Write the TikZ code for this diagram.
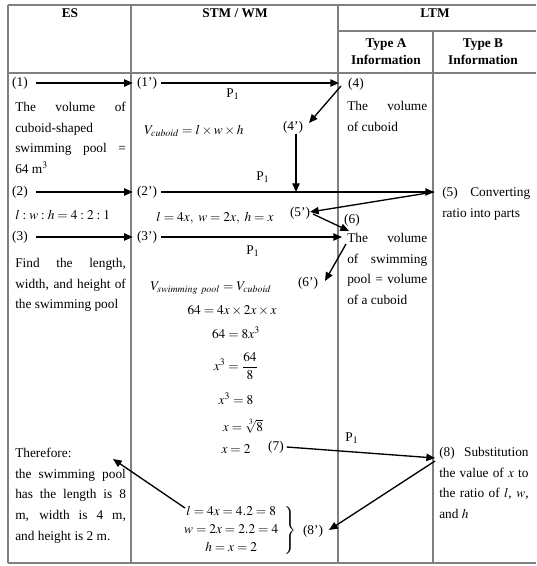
\documentclass[tikz,border=0pt]{standalone}
\usepackage{amsmath}
\usepackage{mathptmx}
\usepackage{fontspec}
\setmainfont{Liberation Serif}
\usetikzlibrary{arrows.meta}
\begin{document}
\begin{tikzpicture}[x=0.75pt,y=-0.75pt,
  grid/.style={draw=black!50, line width=0.9pt},
  arr/.style={-{Triangle[length=6.5pt,width=5.5pt]}, line width=1pt},
  lbl/.style={inner sep=0pt, font=\fontsize{10}{12}\selectfont},
  hd/.style={inner sep=0pt, font=\fontsize{10}{13}\selectfont\bfseries, align=center},
  para/.style={inner sep=0pt, anchor=north west, align=justify, font=\fontsize{10}{15.5}\selectfont},
  eq/.style={inner sep=0pt, font=\fontsize{10}{12}\selectfont},
]
\useasboundingbox (0,0) rectangle (536,566);
% table
\draw[grid] (8,5) -- (536,5);
\draw[grid] (338,31) -- (536,31);
\draw[grid] (8,73) -- (536,73);
\draw[grid] (8,563) -- (536,563);
\draw[grid] (8,5) -- (8,563);
\draw[grid] (131,5) -- (131,563);
\draw[grid] (338,5) -- (338,563);
\draw[grid] (433,31) -- (433,563);
% headers
\node[hd] (hES) at (70,13) {ES};
\node[hd] (hSTM) at (235,13) {STM / WM};
\node[hd] (hLTM) at (435,13) {LTM};
\node[hd] (hA) at (386,52) {Type A\\Information};
\node[hd] (hB) at (483,52) {Type B\\Information};
% ES column
\node[lbl] (n1) at (20,83) {(1)};
\node[para, text width=83pt] (t1) at (15,102) {The volume of\linebreak cuboid-shaped\linebreak swimming pool =\linebreak 64 m$^3$};
\node[lbl] (n2) at (20,192) {(2)};
\node[para, text width=83pt] (t2) at (15,210) {$l:w:h = 4:2:1$};
\node[lbl] (n3) at (20,237) {(3)};
\node[para, text width=83pt] (t3) at (15,258) {Find the length,\linebreak width, and height of\linebreak the swimming pool};
\node[para, text width=83pt] (t8) at (15,448) {Therefore:\\the swimming pool\linebreak has the length is 8\linebreak m, width is 4 m,\linebreak and height is 2 m.};
% STM column
\node[lbl] (n1p) at (147,83) {(1')};
\node[lbl] (pa) at (233,94) {P$_1$};
\node[eq] (e1) at (194,131) {$V_{cuboid} = l\times w\times h$};
\node[lbl] (n4p) at (293,127) {(4')};
\node[lbl] (pb) at (263,177) {P$_1$};
\node[lbl] (n2p) at (147,192) {(2')};
\node[eq] (e2) at (215,218) {$l = 4x,\ w = 2x,\ h = x$};
\node[lbl] (n5p) at (300,213) {(5')};
\node[lbl] (n3p) at (147,237) {(3')};
\node[lbl] (pc) at (253,251) {P$_1$};
\node[eq] (e3) at (211,288) {$V_{swimming\ pool} = V_{cuboid}$};
\node[lbl] (n6p) at (308,283) {(6')};
\node[eq] (e4) at (232,310) {$64 = 4x\times 2x\times x$};
\node[eq] (e5) at (236,333) {$64 = 8x^3$};
\node[eq] (e6) at (236,366) {$x^3 = \dfrac{64}{8}$};
\node[eq] (e7) at (236,399) {$x^3 = 8$};
\node[eq] (e8) at (243,426) {$x = \sqrt[3]{8}$};
\node[eq] (e9) at (236,449) {$x = 2$};
\node[lbl] (n7) at (276,447) {(7)};
\node[eq, anchor=east] (e10) at (297,530) {\renewcommand{\arraystretch}{1.1}$\left.\begin{array}{c} l = 4x = 4.2 = 8\\ w = 2x = 2.2 = 4\\ h = x = 2\end{array}\right\}$};
\node[lbl] (n8p) at (313,531) {(8')};
% LTM type A
\node[lbl] (n4) at (356,84) {(4)};
\node[para, text width=60pt] (a4) at (347,101) {The volume\linebreak of cuboid};
\node[lbl] (n6) at (352,220) {(6)};
\node[para, text width=60pt] (a6) at (347,233) {The volume\linebreak of swimming\linebreak pool = volume\linebreak of a cuboid};
\node[lbl] (pd) at (352,438) {P$_1$};
% LTM type B
\node[para, text width=66pt] (b5) at (442,187) {(5) Converting\linebreak ratio into parts};
\node[para, text width=67pt] (b8) at (439,447) {(8) Substitution\linebreak the value of $x$ to\linebreak the ratio of $l$, $w$,\linebreak and $h$};
% arrow end points
\coordinate (p4in) at (339,83);
\coordinate (p4out) at (341,86);
\coordinate (p4pin) at (309,123);
\coordinate (p4pdown) at (296,134);
\coordinate (j2) at (296,192);
\coordinate (p5in) at (434,192);
\coordinate (p5pin) at (310,212);
\coordinate (p5pout) at (313,214);
\coordinate (p6in) at (349,231);
\coordinate (p6text) at (342,237);
\coordinate (p6out) at (346,244);
\coordinate (p6pin) at (325,281);
\coordinate (p8in) at (435,458);
\coordinate (p8out) at (435,461);
\coordinate (p8pin) at (329,530);
\coordinate (pbr) at (185,508);
\coordinate (pther) at (113,459);
% arrows
\draw[arr] ([xshift=6pt]n1.east) -- ([xshift=-3pt]n1p.west);
\draw[arr] ([xshift=3pt]n1p.east) -- (p4in);
\draw[arr] (p4out) -- (p4pin);
\draw[arr] (p4pdown) -- (j2);
\draw[arr] ([xshift=6pt]n2.east) -- ([xshift=-3pt]n2p.west);
\draw[arr] ([xshift=3pt]n2p.east) -- (p5in);
\draw[arr] (p5in) -- (p5pin);
\draw[arr] (p5pout) -- (p6in);
\draw[arr] ([xshift=6pt]n3.east) -- ([xshift=-3pt]n3p.west);
\draw[arr] ([xshift=3pt]n3p.east) -- (p6text);
\draw[arr] (p6out) -- (p6pin);
\draw[arr] ([xshift=2pt]n7.east) -- (p8in);
\draw[arr] (p8out) -- (p8pin);
\draw[arr] (pbr) -- (pther);
\end{tikzpicture}
\end{document}
